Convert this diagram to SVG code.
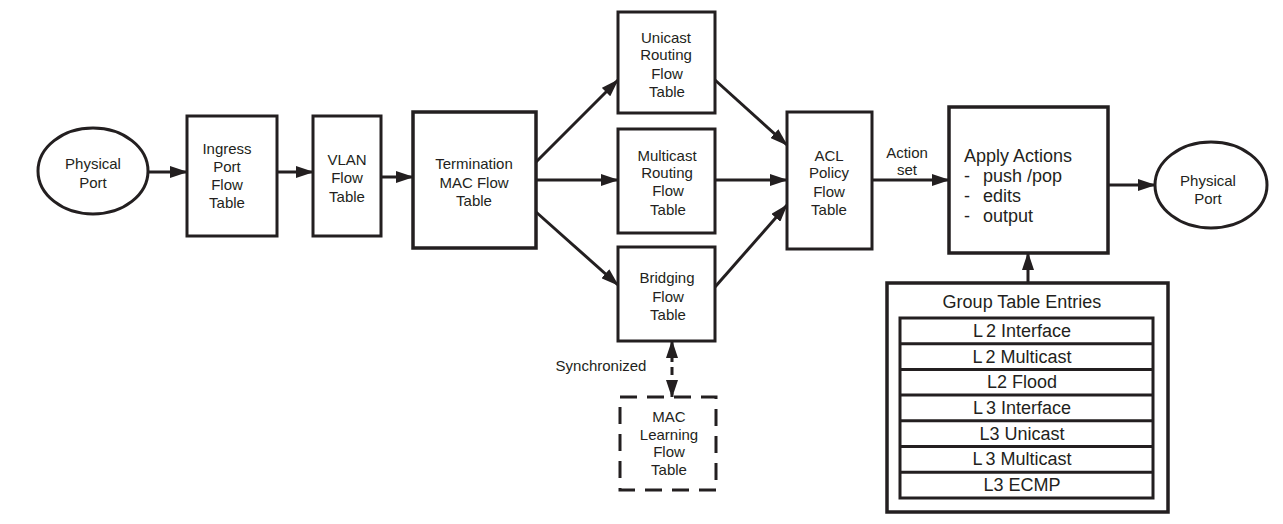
<svg xmlns="http://www.w3.org/2000/svg" width="1283" height="524" viewBox="0 0 1283 524">
<style>
  .box { fill: #ffffff; stroke: #231f20; stroke-width: 3; }
  .thick { stroke-width: 3.5; }
  .dash { stroke-dasharray: 17 10; }
  .edge { fill: none; stroke: #231f20; stroke-width: 3; }
  .t { font-family: "Liberation Sans", Arial, sans-serif; font-size: 15px; fill: #231f20; text-anchor: middle; }
  .big { font-size: 18px; text-anchor: start; }
  .row { font-size: 18px; }
  .hdr { font-size: 18px; }
</style>
<defs>
  <marker id="arr" viewBox="0 0 18 12" refX="17" refY="6" markerWidth="18" markerHeight="12" markerUnits="userSpaceOnUse" orient="auto-start-reverse">
    <path d="M0,0 L18,6 L0,12 z" fill="#231f20"/>
  </marker>
</defs>
<rect width="1283" height="524" fill="#ffffff"/>

<g id="connectors">
  <line class="edge" x1="148" y1="172" x2="187" y2="172" marker-end="url(#arr)"/>
  <line class="edge" x1="277" y1="172" x2="313" y2="172" marker-end="url(#arr)"/>
  <line class="edge" x1="381" y1="177" x2="413" y2="177" marker-end="url(#arr)"/>
  <line class="edge" x1="536" y1="162" x2="618" y2="80" marker-end="url(#arr)"/>
  <line class="edge" x1="536" y1="180" x2="618" y2="180" marker-end="url(#arr)"/>
  <line class="edge" x1="536" y1="212" x2="618" y2="285" marker-end="url(#arr)"/>
  <line class="edge" x1="715" y1="80" x2="787" y2="145" marker-end="url(#arr)"/>
  <line class="edge" x1="715" y1="180" x2="787" y2="180" marker-end="url(#arr)"/>
  <line class="edge" x1="715" y1="287" x2="787" y2="205" marker-end="url(#arr)"/>
  <line class="edge" x1="872" y1="180" x2="949" y2="180" marker-end="url(#arr)"/>
  <line class="edge" x1="1108" y1="185" x2="1155" y2="185" marker-end="url(#arr)"/>
  <line class="edge" x1="1028" y1="283" x2="1028" y2="253" marker-end="url(#arr)"/>
  <line class="edge" x1="672" y1="341" x2="672" y2="397" stroke-dasharray="8 5" marker-start="url(#arr)" marker-end="url(#arr)"/>
  <text class="t" x="907" y="158">Action</text>
  <text class="t" x="907" y="175">set</text>
  <text class="t" x="601" y="371">Synchronized</text>
</g>

<g id="physical-port-in">
  <ellipse class="box" cx="93" cy="171" rx="55" ry="43"/>
  <text class="t" x="93" y="169">Physical</text>
  <text class="t" x="93" y="188">Port</text>
</g>

<g id="ingress-port">
  <rect class="box" x="187" y="116" width="90" height="120"/>
  <text class="t" x="227" y="154">Ingress</text>
  <text class="t" x="227" y="172">Port</text>
  <text class="t" x="227" y="190">Flow</text>
  <text class="t" x="227" y="208">Table</text>
</g>

<g id="vlan">
  <rect class="box" x="313" y="116" width="68" height="120"/>
  <text class="t" x="347" y="165">VLAN</text>
  <text class="t" x="347" y="183">Flow</text>
  <text class="t" x="347" y="202">Table</text>
</g>

<g id="termination-mac">
  <rect class="box thick" x="413" y="112" width="123" height="136"/>
  <text class="t" x="474" y="169">Termination</text>
  <text class="t" x="474" y="188">MAC Flow</text>
  <text class="t" x="474" y="206">Table</text>
</g>

<g id="unicast-routing">
  <rect class="box" x="618" y="12" width="97" height="101"/>
  <text class="t" x="666" y="43">Unicast</text>
  <text class="t" x="666" y="60">Routing</text>
  <text class="t" x="667" y="79">Flow</text>
  <text class="t" x="667" y="97">Table</text>
</g>

<g id="multicast-routing">
  <rect class="box" x="618" y="129" width="97" height="104"/>
  <text class="t" x="667" y="161">Multicast</text>
  <text class="t" x="667" y="178">Routing</text>
  <text class="t" x="668" y="196">Flow</text>
  <text class="t" x="668" y="215">Table</text>
</g>

<g id="bridging">
  <rect class="box" x="618" y="247" width="97" height="94"/>
  <text class="t" x="667" y="283">Bridging</text>
  <text class="t" x="668" y="302">Flow</text>
  <text class="t" x="668" y="320">Table</text>
</g>

<g id="acl-policy">
  <rect class="box" x="787" y="112" width="85" height="137"/>
  <text class="t" x="829" y="161">ACL</text>
  <text class="t" x="829" y="178">Policy</text>
  <text class="t" x="829" y="197">Flow</text>
  <text class="t" x="829" y="215">Table</text>
</g>

<g id="apply-actions">
  <rect class="box thick" x="949" y="107" width="159" height="146"/>
  <text class="t big" x="964" y="162">Apply Actions</text>
  <text class="t big" x="964" y="182">-</text>
  <text class="t big" x="983" y="182">push /pop</text>
  <text class="t big" x="964" y="202">-</text>
  <text class="t big" x="983" y="202">edits</text>
  <text class="t big" x="964" y="222">-</text>
  <text class="t big" x="983" y="222">output</text>
</g>

<g id="physical-port-out">
  <ellipse class="box" cx="1211" cy="185" rx="56" ry="43"/>
  <text class="t" x="1208" y="186">Physical</text>
  <text class="t" x="1208" y="204">Port</text>
</g>

<g id="mac-learning">
  <rect class="box dash" x="620" y="397" width="96" height="93"/>
  <text class="t" x="669" y="422">MAC</text>
  <text class="t" x="669" y="440">Learning</text>
  <text class="t" x="669" y="457">Flow</text>
  <text class="t" x="669" y="475">Table</text>
</g>

<g id="group-table">
  <rect class="box thick" x="887" y="283" width="281" height="229"/>
  <text class="t hdr" x="1022" y="308">Group Table Entries</text>
  <rect class="box" x="900" y="318" width="253" height="180"/>
  <g stroke="#231f20" stroke-width="3">
    <line x1="900" y1="343.7" x2="1153" y2="343.7"/>
    <line x1="900" y1="369.4" x2="1153" y2="369.4"/>
    <line x1="900" y1="395.1" x2="1153" y2="395.1"/>
    <line x1="900" y1="420.8" x2="1153" y2="420.8"/>
    <line x1="900" y1="446.5" x2="1153" y2="446.5"/>
    <line x1="900" y1="472.2" x2="1153" y2="472.2"/>
  </g>
  <text class="t row" x="1022" y="337">L<tspan dx="3">2 Interface</tspan></text>
  <text class="t row" x="1022" y="363">L<tspan dx="3">2 Multicast</tspan></text>
  <text class="t row" x="1022" y="388">L2 Flood</text>
  <text class="t row" x="1022" y="414">L<tspan dx="3">3 Interface</tspan></text>
  <text class="t row" x="1022" y="440">L3 Unicast</text>
  <text class="t row" x="1022" y="465">L<tspan dx="3">3 Multicast</tspan></text>
  <text class="t row" x="1022" y="491">L3 ECMP</text>
</g>
</svg>
